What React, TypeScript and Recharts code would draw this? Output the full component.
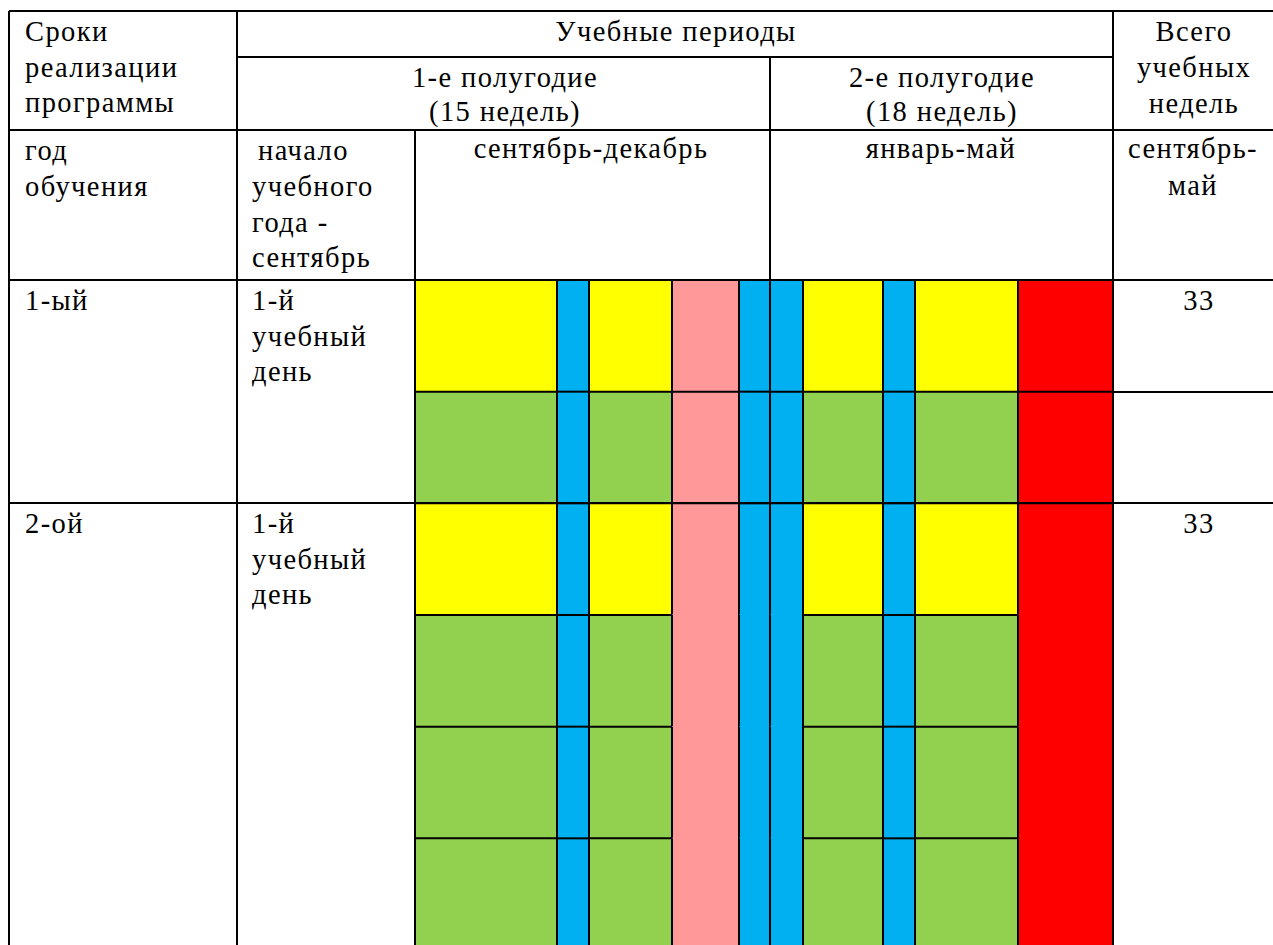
import { BarChart, Bar, XAxis, YAxis } from 'recharts';

// строки цветной сетки (подстроки каждого года обучения)
const rows = ['1-ый / 1', '1-ый / 2', '2-ой / 1', '2-ой / 2', '2-ой / 3', '2-ой / 4'];
const rowYear = [1, 1, 2, 2, 2, 2];
const rowStartsYear = [true, false, true, false, false, false];

// отрезки учебного года слева направо и их относительная длительность
const segments = ['s0', 's1', 's2', 's3', 's4', 's5', 's6', 's7', 's8', 's9'];
const segmentWidths = [142, 32, 83, 67, 31, 33, 80, 32, 103, 95];
const segmentKinds = ['study', 'break', 'study', 'pink', 'break', 'break', 'study', 'break', 'study', 'red'];
// отрезки, объединённые по вертикали во 2-ом году
const mergedInYear2 = [false, false, false, true, true, true, false, false, false, true];

// тексты таблицы
const headerLeft = ['Сроки', 'реализации', 'программы'];
const periodTitle = 'Учебные периоды';
const halves = [['1-е полугодие', '(15 недель)'], ['2-е полугодие', '(18 недель)']];
const totalTitle = ['Всего', 'учебных', 'недель'];
const yearLabel = ['год', 'обучения'];
const startLabel = ['начало', 'учебного', 'года -', 'сентябрь'];
const monthRanges = ['сентябрь-декабрь', 'январь-май'];
const totalRange = ['сентябрь-', 'май'];
const years = ['1-ый', '2-ой'];
const firstDay = ['1-й', 'учебный', 'день'];
const totalWeeks = [33, 33];

const COLORS: Record<string, string> = {
  yellow: '#FFFF00',
  green: '#92D050',
  break: '#00B0F0',
  pink: '#FF9999',
  red: '#FF0000',
};

const total = segmentWidths.reduce((a, b) => a + b, 0);

const data = rows.map((row) => {
  const o: Record<string, any> = { row };
  segments.forEach((s, j) => (o[s] = segmentWidths[j]));
  return o;
});

const makeShape = (j: number) => (props: any) => {
  const { x, y, width, height } = props;
  const i = props.index ?? rows.indexOf(props.payload?.row);
  const kind = segmentKinds[j];
  const fill = kind === 'study' ? (rowStartsYear[i] ? COLORS.yellow : COLORS.green) : COLORS[kind];
  const top = rowStartsYear[i] || !(rowYear[i] === 2 && mergedInYear2[j]);
  return (
    <g>
      <rect x={x} y={y - 0.6} width={width} height={height + 1.2} fill={fill} />
      <line x1={x} y1={y} x2={x} y2={y + height} stroke="#000" strokeWidth={2} />
      <line x1={x + width} y1={y} x2={x + width} y2={y + height} stroke="#000" strokeWidth={2} />
      {top && <line x1={x} y1={y} x2={x + width} y2={y} stroke="#000" strokeWidth={2} />}
    </g>
  );
};

const font = "'Liberation Serif', 'DejaVu Serif', 'Times New Roman', serif";
const FS = 28.5;

function Lines({ lines, x, y, anchor = 'start', step = 35.5 }: any) {
  return (
    <>
      {lines.map((t: any, k: number) => (
        <text
          key={k}
          x={x}
          y={y + k * step}
          textAnchor={anchor}
          style={{ fontFamily: font, fontSize: FS, letterSpacing: 1.4 }}
          fill="#000"
        >
          {t}
        </text>
      ))}
    </>
  );
}

const grid = [
  [9, 11, 1275, 11],
  [9, 11, 9, 950],
  [237, 11, 237, 950],
  [415, 130, 415, 950],
  [770, 57, 770, 280],
  [1113, 11, 1113, 950],
  [237, 57, 1113, 57],
  [9, 130, 1275, 130],
  [9, 280, 1275, 280],
  [1113, 392, 1275, 392],
  [9, 503, 1275, 503],
];

export default function App() {
  return (
    <div style={{ position: 'absolute', left: 0, top: 0, width: 1273, height: 945, overflow: 'hidden', background: '#fff' }}>
      <div style={{ position: 'absolute', left: 0, top: 0 }}>
        <BarChart
          width={1273}
          height={951}
          data={data}
          layout="vertical"
          margin={{ top: 280, left: 415, right: 160, bottom: 1 }}
          barCategoryGap={0}
          barGap={0}
        >
          <XAxis type="number" domain={[0, total]} hide />
          <YAxis type="category" dataKey="row" hide />
          {segments.map((s, j) => (
            <Bar key={s} dataKey={s} stackId="a" isAnimationActive={false} shape={makeShape(j)} />
          ))}
        </BarChart>
      </div>
      <svg width={1273} height={945} style={{ position: 'absolute', left: 0, top: 0, pointerEvents: 'none' }}>
        {grid.map(([x1, y1, x2, y2], k) => (
          <line key={k} x1={x1} y1={y1} x2={x2} y2={y2} stroke="#000" strokeWidth={2} />
        ))}
        <Lines lines={headerLeft} x={25} y={41} />
        <Lines lines={[periodTitle]} x={676} y={41} anchor="middle" />
        <Lines lines={halves[0]} x={505} y={87} anchor="middle" step={34} />
        <Lines lines={halves[1]} x={942} y={87} anchor="middle" step={34} />
        <Lines lines={totalTitle} x={1194} y={41} anchor="middle" step={36} />
        <Lines lines={yearLabel} x={25} y={160} />
        <Lines lines={[startLabel[0]]} x={258} y={160} />
        <Lines lines={startLabel.slice(1)} x={252} y={196} />
        <Lines lines={[monthRanges[0]]} x={591} y={158} anchor="middle" />
        <Lines lines={[monthRanges[1]]} x={941} y={158} anchor="middle" />
        <Lines lines={totalRange} x={1193} y={158} anchor="middle" step={37} />
        {years.map((yl, k) => (
          <g key={yl}>
            <Lines lines={[yl]} x={25} y={310 + k * 223} />
            <Lines lines={firstDay} x={252} y={310 + k * 223} />
            <Lines lines={[String(totalWeeks[k])]} x={1199} y={310 + k * 223} anchor="middle" />
          </g>
        ))}
      </svg>
    </div>
  );
}
